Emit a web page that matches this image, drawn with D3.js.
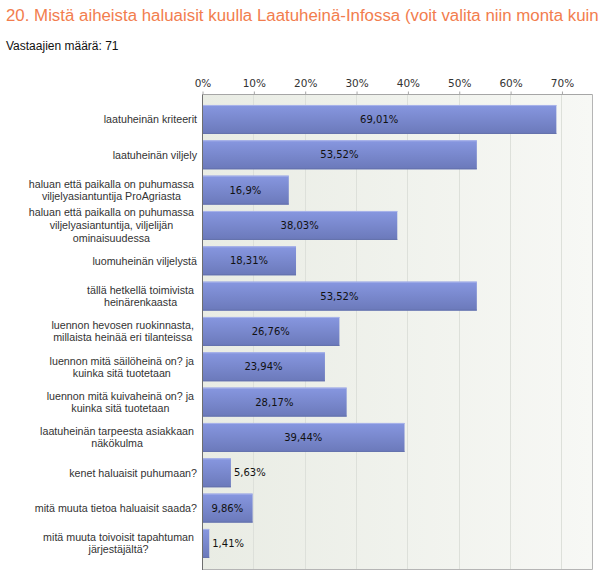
<!DOCTYPE html>
<html><head><meta charset="utf-8">
<script src="https://cdn.jsdelivr.net/npm/d3@7"></script>
<style>
html,body{margin:0;padding:0;background:#fff;overflow:hidden;}
svg{display:block;}
</style></head>
<body>
<svg id="chart" width="601" height="581"></svg>
<script>
const titleText = "20. Mistä aiheista haluaisit kuulla Laatuheinä-Infossa (voit valita niin monta kuin";
const subtitleText = "Vastaajien määrä: 71";
const categories = [
  ["laatuheinän kriteerit"],
  ["laatuheinän viljely"],
  ["haluan että paikalla on puhumassa", "viljelyasiantuntija ProAgriasta"],
  ["haluan että paikalla on puhumassa", "viljelyasiantuntija, viljelijän", "ominaisuudessa"],
  ["luomuheinän viljelystä"],
  ["tällä hetkellä toimivista", "heinärenkaasta"],
  ["luennon hevosen ruokinnasta,", "millaista heinää eri tilanteissa"],
  ["luennon mitä säilöheinä on? ja", "kuinka sitä tuotetaan"],
  ["luennon mitä kuivaheinä on? ja", "kuinka sitä tuotetaan"],
  ["laatuheinän tarpeesta asiakkaan", "näkökulma"],
  ["kenet haluaisit puhumaan?"],
  ["mitä muuta tietoa haluaisit saada?"],
  ["mitä muuta toivoisit tapahtuman", "järjestäjältä?"]
];
const values = [69.01, 53.52, 16.9, 38.03, 18.31, 53.52, 26.76, 23.94, 28.17, 39.44, 5.63, 9.86, 1.41];
const valueLabels = ["69,01%", "53,52%", "16,9%", "38,03%", "18,31%", "53,52%", "26,76%", "23,94%", "28,17%", "39,44%", "5,63%", "9,86%", "1,41%"];
const tickValues = [0, 10, 20, 30, 40, 50, 60, 70];
const tickLabels = ["0%", "10%", "20%", "30%", "40%", "50%", "60%", "70%"];

const svg = d3.select("#chart");
const plot = {left: 202, right: 592, top: 94.5, bottom: 569};

const x = d3.scaleLinear().domain([0, 75.95]).range([plot.left, plot.right]);
const idx = d3.range(categories.length);
const y = d3.scaleBand().domain(idx).range([101.8, 101.8 + 13 * 35.33]).paddingInner(0.18).paddingOuter(0.09);

const defs = svg.append("defs");
const bg = defs.append("linearGradient").attr("id", "bg").attr("x1", "0").attr("x2", "1").attr("y1", "0").attr("y2", "0");
bg.append("stop").attr("offset", "0").attr("stop-color", "#e9ece4");
bg.append("stop").attr("offset", "1").attr("stop-color", "#f7f8f5");
const bar = defs.append("linearGradient").attr("id", "bar").attr("x1", "0").attr("x2", "0").attr("y1", "0").attr("y2", "1");
bar.append("stop").attr("offset", "0").attr("stop-color", "#8797e0");
bar.append("stop").attr("offset", "1").attr("stop-color", "#6b79ba");

// title
const title = svg.append("text").attr("x", 6).attr("y", 21)
  .attr("font-family", "Liberation Sans, Arial, sans-serif").attr("font-size", 17.5)
  .attr("fill", "#f27d4e").text(titleText);
const tw0 = title.node().getComputedTextLength();
if (tw0 > 593) title.attr("font-size", 17.5 * 593 / tw0);
svg.append("text").attr("x", 6).attr("y", 50)
  .attr("font-family", "Liberation Sans, Arial, sans-serif").attr("font-size", 12)
  .attr("fill", "#111").text(subtitleText);

// plot background
svg.append("rect").attr("x", plot.left).attr("y", plot.top)
  .attr("width", plot.right - plot.left).attr("height", plot.bottom - plot.top)
  .attr("fill", "url(#bg)");

// gridlines
svg.append("g").selectAll("line").data(tickValues.slice(1)).join("line")
  .attr("x1", d => Math.round(x(d)) + 0.5).attr("x2", d => Math.round(x(d)) + 0.5)
  .attr("y1", plot.top).attr("y2", plot.bottom)
  .attr("stroke", "#dde0da").attr("stroke-width", 1);

// top axis
const axis = d3.axisTop(x).tickValues(tickValues).tickFormat((d, i) => tickLabels[i]).tickSize(3).tickSizeOuter(0);
const ag = svg.append("g").attr("transform", `translate(0.5,${plot.top})`).call(axis);
ag.select(".domain").attr("stroke", "#a6a6a6").attr("d", `M${plot.left},0H${plot.right}`);
ag.selectAll(".tick line").attr("stroke", "#a6a6a6");
ag.selectAll(".tick text").attr("font-family", "DejaVu Sans, Verdana, sans-serif")
  .attr("font-size", 10.5).attr("fill", "#333").attr("dy", "-0.1em");

// borders
svg.append("line").attr("x1", plot.right + 0.5).attr("x2", plot.right + 0.5)
  .attr("y1", plot.top).attr("y2", plot.bottom + 0.5).attr("stroke", "#b5b5b5");
svg.append("line").attr("x1", plot.left).attr("x2", plot.right + 0.5)
  .attr("y1", plot.bottom + 0.5).attr("y2", plot.bottom + 0.5).attr("stroke", "#b5b5b5");

// bars
const bars = svg.append("g");
bars.selectAll("rect.b").data(idx).join("rect").attr("class", "b")
  .attr("x", plot.left).attr("y", i => y(i))
  .attr("width", i => x(values[i]) - x(0)).attr("height", y.bandwidth())
  .attr("fill", "url(#bar)");
bars.selectAll("line.hl").data(idx).join("line").attr("class", "hl")
  .attr("x1", plot.left).attr("x2", i => x(values[i]))
  .attr("y1", i => y(i) + 0.5).attr("y2", i => y(i) + 0.5)
  .attr("stroke", "#a8b3ea").attr("stroke-width", 1);
bars.selectAll("line.bl").data(idx).join("line").attr("class", "bl")
  .attr("x1", plot.left).attr("x2", i => x(values[i]))
  .attr("y1", i => y(i) + y.bandwidth() - 0.5).attr("y2", i => y(i) + y.bandwidth() - 0.5)
  .attr("stroke", "#6472ad").attr("stroke-width", 1);

// left axis line
svg.append("line").attr("x1", plot.left + 0.5).attr("x2", plot.left + 0.5)
  .attr("y1", plot.top).attr("y2", plot.bottom + 1).attr("stroke", "#6e6e6e");

// value labels
const vl = svg.append("g").attr("font-family", "DejaVu Sans, Verdana, sans-serif")
  .attr("font-size", 10).attr("fill", "#111");
idx.forEach(i => {
  const w = x(values[i]) - x(0);
  const t = vl.append("text").attr("y", y(i) + y.bandwidth() / 2).attr("dy", "0.35em").text(valueLabels[i]);
  const tw = t.node().getComputedTextLength();
  if (tw + 8 < w) {
    t.attr("x", x(0) + w / 2).attr("text-anchor", "middle");
  } else {
    t.attr("x", x(values[i]) + 3).attr("text-anchor", "start");
  }
});

// category labels
const cl = svg.append("g").attr("font-family", "Liberation Sans, Arial, sans-serif")
  .attr("font-size", 10.7).attr("fill", "#333");
idx.forEach(i => {
  const lines = categories[i];
  const cy = y(i) + y.bandwidth() / 2;
  const lh = lines.length > 2 ? 13 : 12;
  if (lines.length === 1) {
    cl.append("text").attr("x", 197).attr("y", cy).attr("dy", "0.35em")
      .attr("text-anchor", "end").text(lines[0]);
  } else {
    const g = cl.append("g");
    const ts = lines.map((s, k) => g.append("text")
      .attr("y", cy + (k - (lines.length - 1) / 2) * lh).attr("dy", "0.35em")
      .attr("text-anchor", "middle").text(s));
    const maxW = d3.max(ts, t => t.node().getComputedTextLength());
    ts.forEach(t => t.attr("x", 194 - maxW / 2));
  }
});
</script>
</body></html>
